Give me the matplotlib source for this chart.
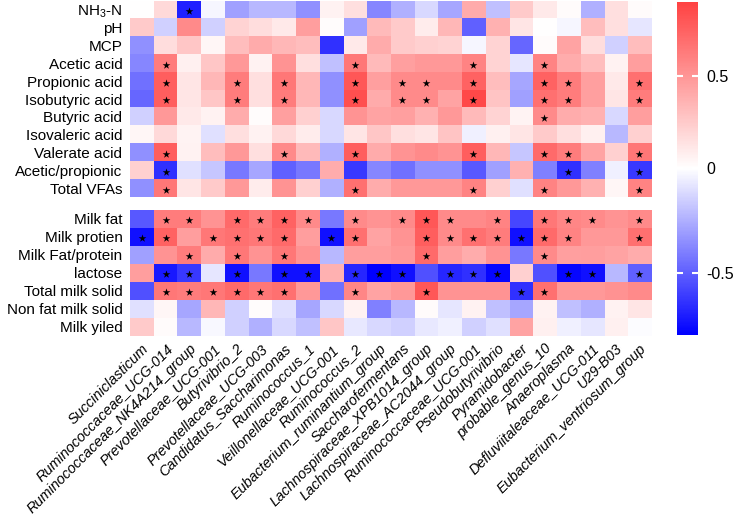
import numpy as np
import matplotlib
matplotlib.use("Agg")
import matplotlib.pyplot as plt
from matplotlib.colors import LinearSegmentedColormap, TwoSlopeNorm

plt.rcParams['font.family'] = ['Liberation Sans', 'DejaVu Sans']
plt.rcParams['mathtext.fontset'] = 'custom'
plt.rcParams['mathtext.rm'] = 'Liberation Sans'
plt.rcParams['mathtext.it'] = 'Liberation Sans:italic'

genera = ["Succiniclasticum", "Ruminococcaceae_UCG-014", "Ruminococcaceae_NK4A214_group",
          "Prevotellaceae_UCG-001", "Butyrivibrio_2", "Prevotellaceae_UCG-003",
          "Candidatus_Saccharimonas", "Ruminococcus_1", "Veillonellaceae_UCG-001",
          "Ruminococcus_2", "Eubacterium_ruminantium_group", "Saccharofermentans",
          "Lachnospiraceae_XPB1014_group", "Lachnospiraceae_AC2044_group",
          "Ruminococcaceae_UCG-001", "Pseudobutyrivibrio", "Pyramidobacter",
          "probable_genus_10", "Anaeroplasma", "Defluviitaleaceae_UCG-011",
          "U29-B03", "Eubacterium_ventriosum_group"]

rumen_labels = ["NH$_3$-N", "pH", "MCP", "Acetic acid", "Propionic acid", "Isobutyric acid",
                "Butyric acid", "Isovaleric acid", "Valerate acid", "Acetic/propionic", "Total VFAs"]
milk_labels = ["Milk fat", "Milk protien", "Milk Fat/protein", "lactose", "Total milk solid",
               "Non fat milk solid", "Milk yiled"]

# correlation values (rows x genera)
nh3n       = [0.00, 0.18, -0.70, -0.03, -0.30, -0.22, -0.22, -0.35, 0.06, 0.15, -0.38, -0.25, -0.12, -0.28, 0.40, -0.20, 0.25, 0.10, 0.02, -0.25, 0.15, 0.02]
ph         = [0.25, -0.15, 0.55, -0.15, 0.21, 0.16, 0.10, 0.46, 0.01, -0.30, 0.33, 0.25, 0.09, 0.34, -0.50, 0.37, 0.12, 0.00, -0.03, 0.31, 0.15, -0.08]
mcp        = [-0.35, 0.16, 0.27, 0.04, 0.31, 0.40, 0.34, 0.31, -0.65, 0.10, 0.40, 0.25, 0.22, 0.21, -0.03, 0.21, -0.48, 0.02, 0.43, 0.16, -0.15, 0.31]
acetic     = [-0.38, 0.62, 0.07, 0.27, 0.49, 0.06, 0.51, 0.15, -0.20, 0.64, 0.33, 0.45, 0.49, 0.49, 0.59, 0.21, -0.08, 0.59, 0.39, 0.31, 0.06, 0.46]
propionic  = [-0.45, 0.76, 0.12, 0.34, 0.62, 0.15, 0.64, 0.34, -0.35, 0.80, 0.45, 0.55, 0.55, 0.55, 0.74, 0.31, -0.28, 0.74, 0.62, 0.45, 0.10, 0.68]
isobutyric = [-0.48, 0.76, 0.12, 0.27, 0.62, 0.15, 0.62, 0.34, -0.35, 0.83, 0.40, 0.55, 0.55, 0.43, 0.87, 0.28, -0.30, 0.68, 0.62, 0.45, 0.12, 0.62]
butyric    = [-0.15, 0.49, 0.10, 0.06, 0.39, 0.01, 0.45, 0.22, -0.12, 0.51, 0.43, 0.45, 0.37, 0.49, 0.33, 0.21, 0.05, 0.55, 0.39, 0.37, -0.12, 0.46]
isovaleric = [0.04, 0.18, 0.05, -0.10, 0.15, 0.06, 0.18, 0.09, -0.12, 0.12, 0.27, 0.15, 0.12, 0.28, -0.05, 0.07, 0.12, 0.25, 0.15, 0.07, -0.22, 0.22]
valerate   = [-0.35, 0.76, 0.06, 0.31, 0.49, 0.15, 0.55, 0.33, -0.25, 0.76, 0.40, 0.51, 0.55, 0.51, 0.76, 0.34, -0.18, 0.71, 0.62, 0.43, 0.22, 0.64]
ace_prop   = [0.22, -0.65, -0.10, -0.18, -0.42, -0.28, -0.50, -0.42, 0.39, -0.62, -0.38, -0.45, -0.35, -0.35, -0.52, -0.30, 0.37, -0.40, -0.65, -0.40, -0.05, -0.62]
total_vfas = [-0.35, 0.64, 0.12, 0.25, 0.49, 0.09, 0.51, 0.22, -0.25, 0.68, 0.39, 0.49, 0.49, 0.49, 0.59, 0.22, -0.10, 0.59, 0.49, 0.37, 0.04, 0.59]

milk_fat     = [-0.52, 0.62, 0.62, 0.51, 0.71, 0.62, 0.74, 0.55, -0.42, 0.55, 0.51, 0.55, 0.80, 0.55, 0.55, 0.59, -0.58, 0.64, 0.57, 0.55, 0.51, 0.55]
milk_prot    = [-0.75, 0.74, 0.46, 0.64, 0.68, 0.64, 0.71, 0.46, -0.75, 0.68, 0.43, 0.51, 0.76, 0.55, 0.68, 0.62, -0.75, 0.71, 0.59, 0.49, 0.49, 0.68]
fat_prot     = [-0.30, 0.51, 0.62, 0.40, 0.64, 0.51, 0.64, 0.51, -0.22, 0.46, 0.46, 0.49, 0.71, 0.46, 0.39, 0.51, -0.42, 0.55, 0.45, 0.46, 0.43, 0.39]
lactose      = [0.46, -0.72, -0.62, -0.08, -0.75, -0.42, -0.75, -0.75, 0.37, -0.68, -0.80, -0.75, -0.55, -0.68, -0.65, -0.78, 0.22, -0.55, -0.78, -0.75, -0.22, -0.50]
total_solid  = [-0.55, 0.64, 0.62, 0.64, 0.71, 0.64, 0.68, 0.49, -0.45, 0.57, 0.43, 0.49, 0.80, 0.51, 0.51, 0.51, -0.65, 0.68, 0.49, 0.49, 0.52, 0.55]
nonfat_solid = [-0.10, 0.04, -0.28, 0.34, -0.15, 0.01, -0.10, -0.28, -0.12, 0.06, -0.40, -0.22, 0.02, -0.08, 0.06, -0.20, -0.28, 0.06, -0.20, -0.25, 0.06, 0.12]
milk_yield   = [0.25, 0.02, -0.22, -0.02, -0.15, -0.25, -0.12, -0.20, 0.27, -0.07, -0.12, -0.15, -0.07, -0.05, -0.15, -0.10, 0.43, 0.07, -0.05, -0.08, 0.07, -0.01]

# significant cells (genus indices) per row
sig_rumen = [[2], [], [], [1, 9, 14, 17],
             [1, 4, 6, 9, 11, 12, 14, 17, 18, 21],
             [1, 4, 6, 9, 11, 12, 14, 17, 18, 21],
             [17], [], [1, 6, 9, 14, 17, 18, 21], [1, 18, 21], [1, 9, 14, 17, 21]]
sig_milk = [[1, 2, 4, 5, 6, 7, 9, 11, 12, 13, 15, 17, 18, 19, 21],
            [0, 1, 3, 4, 5, 6, 8, 9, 12, 13, 14, 15, 16, 17, 18, 21],
            [2, 4, 6, 12, 17],
            [1, 2, 4, 6, 7, 9, 10, 11, 13, 14, 15, 18, 19, 21],
            [1, 2, 3, 4, 5, 6, 9, 12, 16, 17],
            [], []]

rumen = np.array([nh3n, ph, mcp, acetic, propionic, isobutyric, butyric, isovaleric,
                  valerate, ace_prop, total_vfas])
milk = np.array([milk_fat, milk_prot, fat_prot, lactose, total_solid, nonfat_solid, milk_yield])

cmap = LinearSegmentedColormap.from_list("bwr2", [(0, 0, 1), (1, 1, 1), (1, 0.26, 0.26)])
norm = TwoSlopeNorm(vmin=-0.8, vcenter=0, vmax=0.9)

fig = plt.figure(figsize=(7.33, 5.23), dpi=100)
ax1 = fig.add_axes([0.1774, 0.6233, 0.7108, 0.3748])
ax2 = fig.add_axes([0.1774, 0.3576, 0.7108, 0.2409])
cax = fig.add_axes([0.9236, 0.3595, 0.0287, 0.6367])

for ax, data, labels, sig in [(ax1, rumen, rumen_labels, sig_rumen), (ax2, milk, milk_labels, sig_milk)]:
    im = ax.imshow(data, cmap=cmap, norm=norm, aspect='auto', interpolation='nearest')
    for r, cols in enumerate(sig):
        for c in cols:
            ax.scatter(c, r + 0.08, marker='*', s=34, color='black', linewidths=0, zorder=3)
    ax.set_yticks(range(len(labels)))
    ax.set_yticklabels(labels, fontsize=11)
    ax.tick_params(length=0, pad=5.5)
    for s in ax.spines.values():
        s.set_visible(False)
    ax.set_xlim(-0.5, len(genera) - 0.5)
    ax.set_ylim(len(labels) - 0.5, -0.5)

ax1.set_xticks([])
ax2.set_xticks(range(len(genera)))
ax2.set_xticklabels(genera, rotation=45, ha='right', va='top', rotation_mode='anchor',
                    fontsize=10.4, style='italic')
ax2.tick_params(axis='x', pad=4)

cb = fig.colorbar(im, cax=cax, ticks=[-0.5, 0, 0.5])
cb.ax.set_yticklabels(['-0.5', '0', '0.5'])
cb.outline.set_visible(False)
cb.ax.tick_params(direction='in', color='white', length=4, width=1.5, left=True, right=True,
                  labelsize=11.5, pad=6)

fig.savefig("out.png", dpi=100)
